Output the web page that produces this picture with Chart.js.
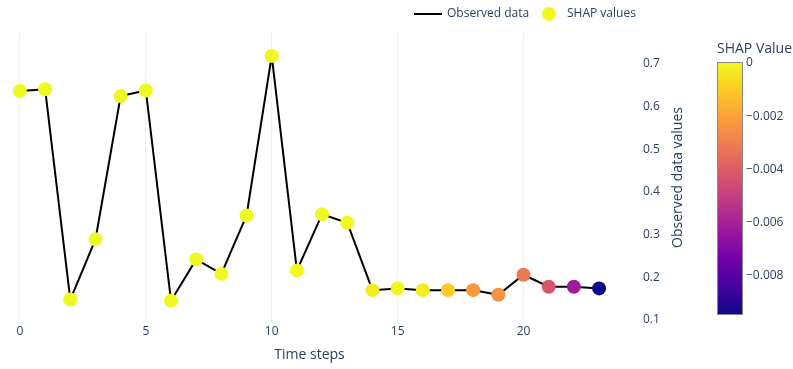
<!DOCTYPE html>
<html>
<head>
<meta charset="utf-8">
<script src="https://cdn.jsdelivr.net/npm/chart.js@4.4.1/dist/chart.umd.min.js"></script>
<style>
  html, body { margin: 0; padding: 0; background: #ffffff; }
  #wrap { width: 793px; height: 369px; position: relative; }
</style>
</head>
<body>
<div id="wrap"><canvas id="c" width="793" height="369"></canvas></div>
<script>
// Time steps and observed series
const timeSteps = [0,1,2,3,4,5,6,7,8,9,10,11,12,13,14,15,16,17,18,19,20,21,22,23];
const observed = [0.637, 0.641, 0.148, 0.289, 0.625, 0.638, 0.145, 0.242, 0.208, 0.345,
                  0.719, 0.216, 0.348, 0.328, 0.170, 0.174, 0.170, 0.170, 0.170, 0.159,
                  0.206, 0.178, 0.178, 0.174];
// SHAP value attributed to each time step
const shapValues = [0.00001, 0.00002, 0.00001, 0.00002, 0.00001, 0.00002, 0.00001, 0.00002,
                    0.00003, 0.00001, 0.00004, 0.00002, 0.00001, 0.00001, -0.00025, -0.00006,
                    -0.0002, -0.00101, -0.00225, -0.00244, -0.00314, -0.00425, -0.00616, -0.0095];
// Axis and colour bar ticks
const xTicks = [0, 5, 10, 15, 20];
const yTicks = [0.1, 0.2, 0.3, 0.4, 0.5, 0.6, 0.7];
const colorbarTicks = [0, -0.002, -0.004, -0.006, -0.008];

const plasma = ['#0d0887','#46039f','#7201a8','#9c179e','#bd3786','#d8576b','#ed7953','#fb9f3a','#fdca26','#f0f921'];
const FONT = '"Open Sans", "Noto Sans", sans-serif';
const TEXT = '#2a3f5f';

const cmin = Math.min(...shapValues);
const cmax = Math.max(...shapValues);

function hexToRgb(h) {
  return [parseInt(h.slice(1,3),16), parseInt(h.slice(3,5),16), parseInt(h.slice(5,7),16)];
}
function plasmaColor(v) {
  let t = (v - cmin) / (cmax - cmin);
  t = Math.max(0, Math.min(1, t));
  const pos = t * (plasma.length - 1);
  const i = Math.min(plasma.length - 2, Math.floor(pos));
  const f = pos - i;
  const a = hexToRgb(plasma[i]), b = hexToRgb(plasma[i + 1]);
  const c = a.map((x, k) => Math.round(x + (b[k] - x) * f));
  return `rgb(${c[0]},${c[1]},${c[2]})`;
}
const pointColors = shapValues.map(plasmaColor);
const points = timeSteps.map((t, i) => ({ x: t, y: observed[i] }));

// Axes keep a fixed size and add no edge padding of their own
function fixBox(size) {
  return s => {
    if (s.isHorizontal()) s.height = size; else s.width = size;
    s.paddingLeft = s.paddingRight = s.paddingTop = s.paddingBottom = 0;
  };
}

// Legend, axis titles and colour bar drawn on top of the chart
const overlay = {
  id: 'overlay',
  afterDraw(chart) {
    const ctx = chart.ctx;
    const area = chart.chartArea;
    ctx.save();
    ctx.fillStyle = TEXT;
    ctx.textBaseline = 'middle';

    // legend
    ctx.font = `12px ${FONT}`;
    ctx.strokeStyle = '#000000';
    ctx.lineWidth = 2;
    ctx.beginPath(); ctx.moveTo(414, 14); ctx.lineTo(442, 14); ctx.stroke();
    ctx.textAlign = 'left';
    ctx.fillText(chart.data.datasets[1].label, 447, 14);
    ctx.fillStyle = pointColors[0];
    ctx.beginPath(); ctx.arc(549, 14, 7, 0, Math.PI * 2); ctx.fill();
    ctx.fillStyle = TEXT;
    ctx.fillText(chart.data.datasets[0].label, 567, 14);

    // axis titles
    ctx.font = `14px ${FONT}`;
    ctx.textAlign = 'center';
    ctx.fillText('Time steps', (area.left + area.right) / 2, 355);
    ctx.save();
    ctx.translate(678, (area.top + area.bottom) / 2);
    ctx.rotate(-Math.PI / 2);
    ctx.fillText('Observed data values', 0, 0);
    ctx.restore();

    // colour bar
    const bx = 717, bw = 26, by = 62, bh = 253;
    const grad = ctx.createLinearGradient(0, by + bh, 0, by);
    plasma.forEach((c, i) => grad.addColorStop(i / (plasma.length - 1), c));
    ctx.fillStyle = grad;
    ctx.fillRect(bx, by, bw, bh);
    ctx.strokeStyle = '#888888';
    ctx.lineWidth = 1;
    ctx.strokeRect(bx + 0.5, by + 0.5, bw - 1, bh - 1);

    ctx.fillStyle = TEXT;
    ctx.font = `14px ${FONT}`;
    ctx.textAlign = 'left';
    ctx.fillText('SHAP Value', 717, 49);
    ctx.font = `12px ${FONT}`;
    colorbarTicks.forEach(v => {
      const y = by + bh - (v - cmin) / (cmax - cmin) * bh;
      const label = v === 0 ? '0' : '\u2212' + Math.abs(v).toFixed(3);
      ctx.fillText(label, 746, y);
    });
    ctx.restore();
  }
};

new Chart(document.getElementById('c'), {
  data: {
    datasets: [
      {
        type: 'scatter',
        label: 'SHAP values',
        data: points,
        backgroundColor: pointColors,
        borderWidth: 0,
        pointRadius: 7,
        pointHoverRadius: 7,
        order: 0
      },
      {
        type: 'line',
        label: 'Observed data',
        data: points,
        borderColor: '#000000',
        borderWidth: 2,
        pointRadius: 0,
        tension: 0,
        fill: false,
        order: 1
      }
    ]
  },
  options: {
    responsive: false,
    animation: false,
    events: [],
    layout: { padding: { top: 33, left: 4, right: 91, bottom: 0 } },
    plugins: { legend: { display: false }, tooltip: { enabled: false } },
    scales: {
      x: {
        type: 'linear',
        position: 'bottom',
        min: -0.514,
        max: 23.514,
        afterFit: fixBox(47),
        afterBuildTicks(s) { s.ticks = xTicks.map(v => ({ value: v })); },
        grid: { color: '#ebf0f8', lineWidth: 1, drawTicks: false },
        border: { display: false },
        ticks: { padding: 2, color: TEXT, font: { family: FONT, size: 12 } }
      },
      y: {
        type: 'linear',
        position: 'right',
        min: 0.0953,
        max: 0.7727,
        afterFit: fixBox(90),
        afterBuildTicks(s) { s.ticks = yTicks.map(v => ({ value: v })); },
        grid: { display: false, drawTicks: false },
        border: { display: false },
        ticks: {
          padding: 31,
          color: TEXT,
          font: { family: FONT, size: 12 },
          callback: v => Number(v).toFixed(1)
        }
      }
    }
  },
  plugins: [overlay]
});
</script>
</body>
</html>
